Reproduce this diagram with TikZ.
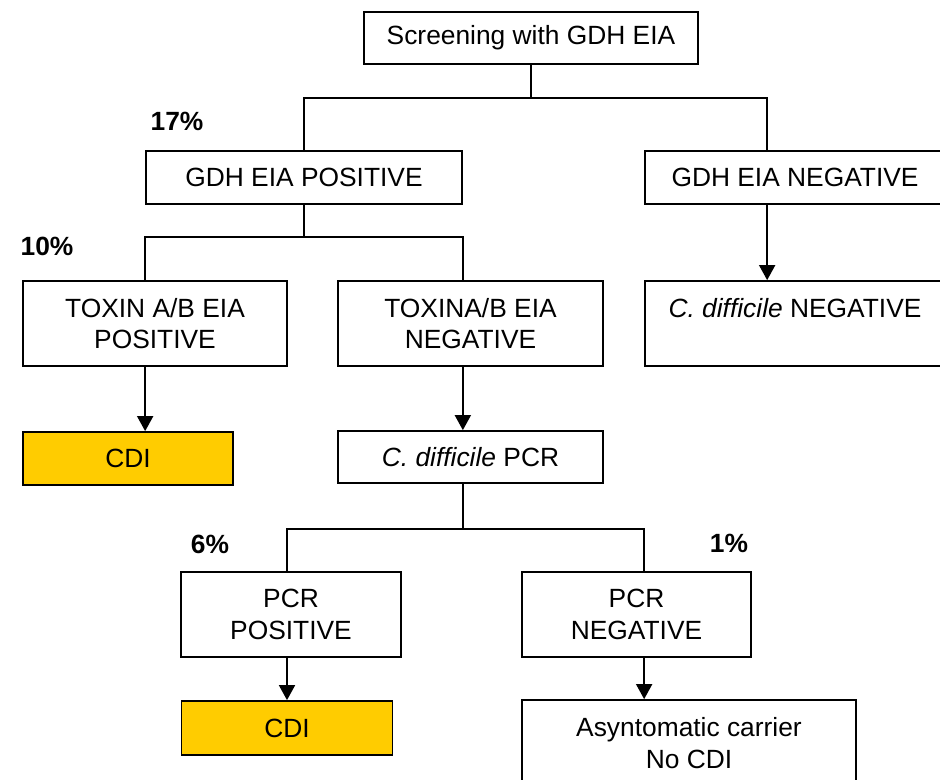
\documentclass[tikz,border=0pt]{standalone}
\usepackage{fontspec}
\setmainfont{Liberation Sans}
\usepackage{tikz}
\usetikzlibrary{positioning}
\usetikzlibrary{arrows.meta}
\usetikzlibrary{calc}
\definecolor{cdigold}{HTML}{FFCC00}
\tikzset{>={Triangle[width=0.32cm,length=0.3cm]}}
\tikzstyle{boxnode}=[black,draw=black,line width=1pt,shape=rectangle,fill=white,inner sep=0pt,align=center,font=\fontsize{15}{18}\selectfont]
\tikzstyle{cdinode}=[boxnode,fill=cdigold]
\tikzstyle{pctnode}=[black,inner sep=0pt,font=\fontsize{15}{18}\selectfont\bfseries]
\tikzstyle{link}=[line width=1pt,color=black]
\tikzstyle{flowarrow}=[->,line width=1pt,color=black]

\begin{document}
\begin{tikzpicture}[x=0.02cm,y=-0.02cm]
	\useasboundingbox (0,0) rectangle (940,780);
	
	% Screening
	\node[boxnode, minimum width=6.68cm, minimum height=1.04cm] (screen) at (531, 38) {Screening with GDH EIA};
	\node[boxnode, minimum width=6.32cm, minimum height=1.06cm] (gdhpos) at (304, 177.5) {GDH EIA POSITIVE};
	\node[boxnode, minimum width=6cm, minimum height=1.06cm] (gdhneg) at (795, 177.5) {GDH EIA NEGATIVE};
	\node[pctnode] (pa) at (177, 121) {17\%};
	\coordinate (bus1) at ($(screen.south) + (0, 33)$);
	\draw[link] (screen.south) -- (bus1);
	\draw[link] (bus1) -| (gdhpos.north);
	\draw[link] (bus1) -| ($(gdhneg.north west) + (123, 0)$);
	
	% Toxin EIA
	\node[boxnode, minimum width=5.28cm, minimum height=1.7cm] (toxpos) at (155, 323.5) {TOXIN A/B EIA\\POSITIVE};
	\node[boxnode, minimum width=5.3cm, minimum height=1.7cm] (toxneg) at (470.5, 323.5) {TOXINA/B EIA\\NEGATIVE};
	\node[boxnode, minimum width=6cm, minimum height=1.7cm] (cdneg) at (795, 323.5) {\textit{C. difficile} NEGATIVE\\~};
	\node[pctnode] (pb) at (47, 246) {10\%};
	\coordinate (bus2) at ($(gdhpos.south) + (0, 32)$);
	\draw[link] (gdhpos.south) -- (bus2);
	\draw[link] (bus2) -| (toxpos.north -| gdhpos.west);
	\draw[link] (bus2) -| (toxneg.north -| gdhpos.east);
	\draw[flowarrow] ($(gdhneg.south west) + (123, 0)$) -- ($(cdneg.north west) + (123, 0)$);
	
	% CDI and PCR
	\node[cdinode, minimum width=4.2cm, minimum height=1.06cm] (cdia) at (128, 458.5) {CDI};
	\node[boxnode, minimum width=5.3cm, minimum height=1.04cm] (pcr) at (470.5, 457) {\textit{C. difficile} PCR};
	\draw[flowarrow] (toxpos.south -| gdhpos.west) -- (cdia.north -| gdhpos.west);
	\draw[flowarrow] (toxneg.south -| gdhpos.east) -- (pcr.north -| gdhpos.east);
	
	% PCR results
	\node[boxnode, minimum width=4.4cm, minimum height=1.7cm] (pcrpos) at (291, 614.5) {PCR\\POSITIVE};
	\node[boxnode, minimum width=4.58cm, minimum height=1.7cm] (pcrneg) at (636.5, 614.5) {PCR\\NEGATIVE};
	\node[pctnode] (pc) at (210, 544) {6\%};
	\node[pctnode] (pd) at (729, 543) {1\%};
	\node[cdinode, minimum width=4.22cm, minimum height=1.08cm] (cdib) at (287, 728) {CDI};
	\node[boxnode, minimum width=6.68cm, minimum height=1.72cm] (asym) at (689, 743) {Asyntomatic carrier\\No CDI};
	\coordinate (bus3) at ($(pcr.south -| gdhpos.east) + (0, 45)$);
	\draw[link] (pcr.south -| gdhpos.east) -- (bus3);
	\draw[link] (bus3) -| (pcrpos.north -| cdib.north);
	\draw[link] (bus3) -| (pcrneg.north -| gdhneg.west);
	\draw[flowarrow] (pcrpos.south -| cdib.north) -- (cdib.north);
	\draw[flowarrow] (pcrneg.south -| gdhneg.west) -- (asym.north -| gdhneg.west);
	
\end{tikzpicture}
\end{document}
